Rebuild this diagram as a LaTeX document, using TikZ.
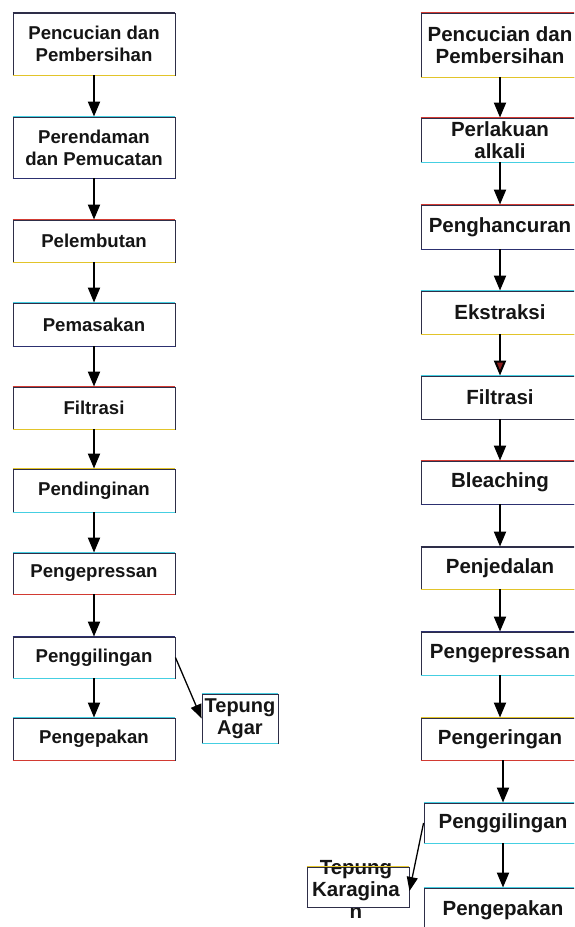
\documentclass[tikz,border=0pt]{standalone}
\usepackage{fontspec}
\setmainfont{Liberation Sans}
\usetikzlibrary{arrows.meta}
\definecolor{boxc}{HTML}{2E2E48}
\definecolor{redc}{HTML}{D23A32}
\definecolor{yelc}{HTML}{E2C42A}
\definecolor{cyac}{HTML}{45CFE2}
\definecolor{navc}{HTML}{2C3070}
\definecolor{txtc}{HTML}{151515}
\definecolor{tipred}{HTML}{8A1E1E}
\begin{document}
\begin{tikzpicture}[x=1pt,y=-1pt,
  box/.style={draw=boxc, line width=0.9pt, fill=white, inner sep=0pt, align=center, text=txtc,
    font=\bfseries\fontsize{18.6}{22}\selectfont},
  lbox/.style={box, minimum width=162pt},
  rbox/.style={box, minimum width=158pt, font=\bfseries\fontsize{20.5}{22.5}\selectfont},
  arr/.style={line width=2pt, -{Triangle[width=12pt,length=15pt]}},
  sarr/.style={line width=1.3pt, -{Triangle[width=11pt,length=14pt]}}]
\useasboundingbox (0,0) rectangle (574,927);
\clip (0,0) rectangle (574,927);
% left column
\node[lbox, minimum height=62pt] (l1) at (94,44) {Pencucian dan\\Pembersihan};
\node[lbox, minimum height=61pt] (l2) at (94,147.5) {Perendaman\\dan Pemucatan};
\node[lbox, minimum height=42pt] (l3) at (94,241) {Pelembutan};
\node[lbox, minimum height=43pt] (l4) at (94,324.5) {Pemasakan};
\node[lbox, minimum height=42pt] (l5) at (94,408) {Filtrasi};
\node[lbox, minimum height=43pt] (l6) at (94,490.5) {Pendinginan};
\node[lbox, minimum height=41pt] (l7) at (94,573.5) {Pengepressan};
\node[lbox, minimum height=41pt] (l8) at (94,657.5) {Penggilingan};
\node[lbox, minimum height=42pt] (l9) at (94,739) {Pengepakan};
\node[box, minimum width=76pt, minimum height=49pt, font=\bfseries\fontsize{20}{22}\selectfont] (ta) at (240,718.5) {Tepung\\Agar};
% right column
\node[rbox, minimum height=64pt] (r1) at (500,45) {Pencucian dan\\Pembersihan};
\node[rbox, minimum height=44pt] (r2) at (500,140) {Perlakuan\\alkali};
\node[rbox, minimum height=44pt] (r3) at (500,227) {Penghancuran};
\node[rbox, minimum height=43pt] (r4) at (500,312.5) {Ekstraksi};
\node[rbox, minimum height=43pt] (r5) at (500,397.5) {Filtrasi};
\node[rbox, minimum height=43pt] (r6) at (500,482.5) {Bleaching};
\node[rbox, minimum height=42pt] (r7) at (500,568) {Penjedalan};
\node[rbox, minimum height=43pt] (r8) at (500,653.5) {Pengepressan};
\node[rbox, minimum height=42pt] (r9) at (500,739) {Pengeringan};
\node[rbox, minimum height=40pt] (r10) at (503,823) {Penggilingan};
\node[rbox, minimum height=44pt] (r11) at (503,910) {Pengepakan};
\node[box, minimum width=102pt, minimum height=40pt] (tk) at (358,887) {};
\node[font=\bfseries\fontsize{20.5}{22}\selectfont, align=center, text=txtc, inner sep=0pt] (tkt) at (356,889) {Tepung\\Karagina\\n};
% coloured edges
\foreach \n/\t/\b in {l1/boxc/yelc, l2/cyac/navc, l3/redc/yelc, l4/cyac/navc, l5/redc/yelc,
  l6/yelc/cyac, l7/cyac/redc, l8/navc/cyac, l9/cyac/redc, ta/cyac/cyac,
  r1/redc/yelc, r2/redc/cyac, r3/redc/navc, r4/cyac/yelc, r5/cyac/boxc, r6/redc/navc,
  r7/boxc/yelc, r8/navc/cyac, r9/yelc/redc, r10/cyac/cyac, r11/cyac/cyac, tk/yelc/boxc}{
  \draw[draw=\t, line width=1.1pt] (\n.north west) -- (\n.north east);
  \draw[draw=\b, line width=1.1pt] (\n.south west) -- (\n.south east);
}
% arrows left
\foreach \a/\b in {l1/l2, l2/l3, l3/l4, l4/l5, l5/l6, l6/l7, l7/l8, l8/l9}{
  \draw[arr] (\a.south) -- (\b.north);
}
\draw[sarr] (l8.east) -- (ta.west);
% arrows right
\foreach \a/\b in {r1/r2, r2/r3, r3/r4, r5/r6, r6/r7, r7/r8, r8/r9}{
  \draw[arr] (\a.south) -- (\b.north);
}
\draw[line width=2pt, -{Triangle[width=12pt,length=15pt,fill=tipred]}] (r4.south) -- (r5.north);
\draw[arr] (r9.south -| r10.north) -- (r10.north);
\draw[arr] (r10.south) -- (r11.north);
\draw[sarr] (r10.west) -- ([yshift=-4pt]tk.east);
\end{tikzpicture}
\end{document}
